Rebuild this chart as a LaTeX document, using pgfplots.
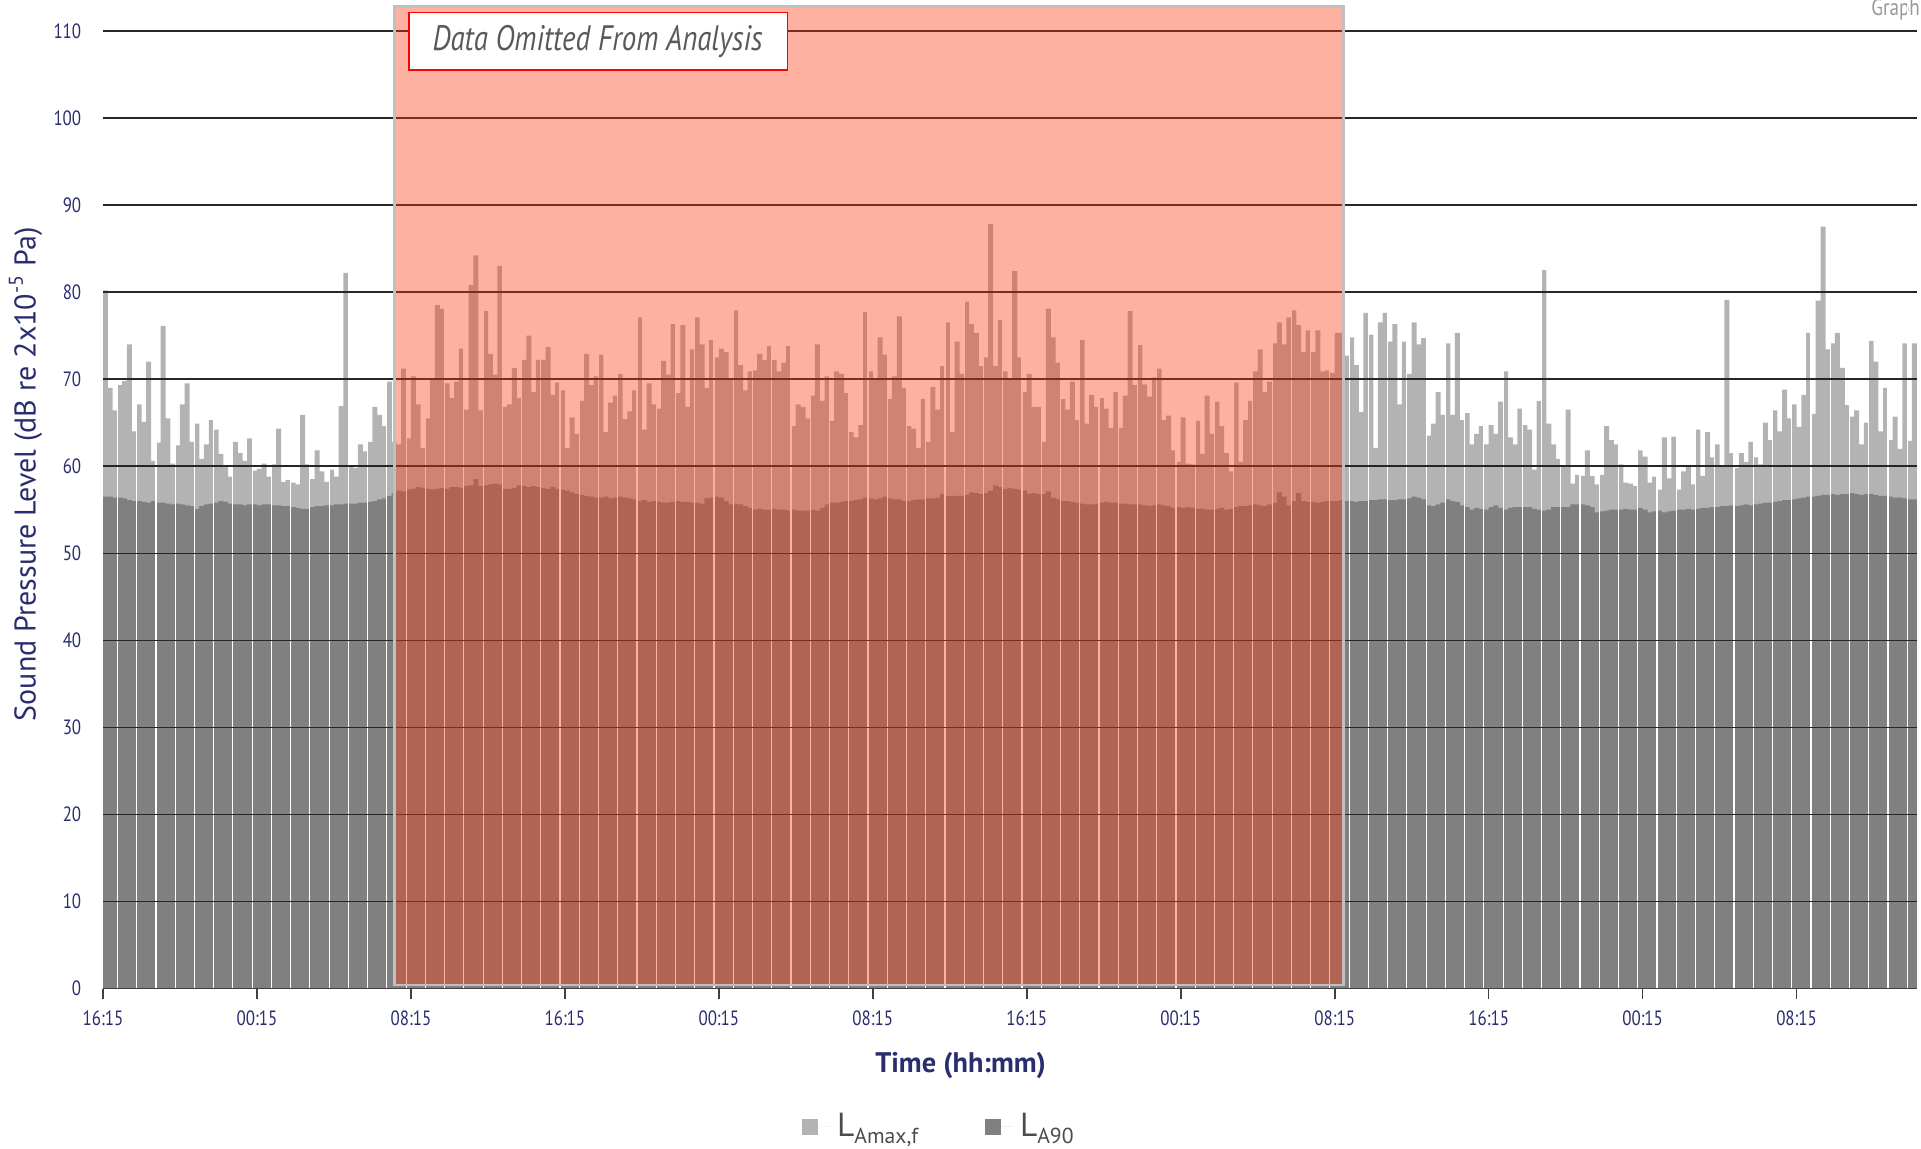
\documentclass[border=0pt]{standalone}
\usepackage{fontspec}
\setmainfont{PT Sans}
\newfontfamily\tickfont{PT Sans}[FakeStretch=0.82]
\usepackage{pgfplots}
\usepackage{pgfplotstable}
\pgfplotsset{compat=1.18}
\usetikzlibrary{calc}
\definecolor{navy}{RGB}{42,45,110}
\definecolor{lmax}{RGB}{179,179,179}
\definecolor{lninety}{RGB}{128,128,128}
\definecolor{omit}{RGB}{255,60,20}

\pgfplotstableread{
i max l90
0 80.2 56.5
1 69.0 56.5
2 66.4 56.4
3 69.3 56.4
4 69.8 56.3
5 74.0 56.1
6 64.0 56.0
7 67.1 56.0
8 65.1 55.9
9 72.0 55.8
10 60.6 56.0
11 62.7 55.8
12 76.1 55.8
13 65.5 55.7
14 60.3 55.6
15 62.4 55.7
16 67.1 55.6
17 69.5 55.5
18 62.8 55.4
19 64.9 55.1
20 60.8 55.4
21 62.5 55.6
22 65.3 55.7
23 64.2 55.8
24 61.4 56.0
25 60.0 55.9
26 58.8 55.7
27 62.8 55.6
28 61.5 55.6
29 60.6 55.5
30 63.2 55.6
31 59.5 55.6
32 59.7 55.5
33 60.3 55.6
34 58.8 55.6
35 60.2 55.5
36 64.3 55.5
37 58.2 55.4
38 58.4 55.4
39 58.1 55.3
40 57.9 55.2
41 65.9 55.1
42 60.2 55.1
43 58.5 55.3
44 61.8 55.4
45 59.4 55.4
46 58.2 55.5
47 59.6 55.5
48 58.8 55.6
49 66.9 55.6
50 82.2 55.7
51 60.0 55.7
52 59.8 55.7
53 62.5 55.8
54 61.7 55.8
55 62.8 55.9
56 66.8 56.0
57 65.9 56.2
58 64.6 56.3
59 69.7 56.6
60 62.8 56.9
61 62.5 57.2
62 71.2 57.1
63 63.2 57.3
64 70.3 57.4
65 67.1 57.6
66 62.1 57.5
67 65.5 57.4
68 70.0 57.3
69 78.5 57.4
70 78.1 57.5
71 69.5 57.4
72 67.8 57.6
73 69.7 57.6
74 73.5 57.5
75 66.5 57.7
76 80.8 57.8
77 84.2 58.5
78 66.4 57.7
79 77.8 57.8
80 72.9 57.9
81 70.5 58.0
82 83.0 57.9
83 66.8 57.4
84 67.1 57.4
85 71.3 57.5
86 67.8 57.8
87 72.2 57.7
88 75.0 57.6
89 68.5 57.7
90 72.2 57.6
91 72.2 57.5
92 73.7 57.4
93 68.2 57.6
94 69.6 57.4
95 68.7 57.3
96 62.1 57.2
97 65.6 57.0
98 63.7 56.8
99 67.5 56.7
100 72.9 56.6
101 69.3 56.5
102 70.3 56.4
103 72.8 56.4
104 63.9 56.5
105 67.3 56.3
106 68.1 56.4
107 70.6 56.5
108 65.4 56.4
109 66.3 56.3
110 68.7 56.2
111 77.1 56.0
112 64.2 56.1
113 69.5 55.9
114 67.1 56.0
115 66.6 55.9
116 72.1 55.8
117 70.5 55.8
118 76.3 55.9
119 68.4 56.0
120 76.2 55.9
121 66.8 55.9
122 73.4 55.8
123 77.1 55.8
124 74.0 55.7
125 69.0 56.3
126 74.5 56.4
127 72.5 56.5
128 73.5 56.4
129 73.1 56.0
130 70.0 55.6
131 77.9 55.7
132 71.6 55.6
133 68.7 55.4
134 70.9 55.2
135 71.0 55.0
136 72.9 55.1
137 72.2 55.0
138 73.8 55.0
139 72.2 55.1
140 70.9 55.0
141 71.9 55.0
142 73.8 54.9
143 64.6 55.0
144 67.1 54.9
145 66.8 54.9
146 65.5 54.9
147 68.1 55.0
148 74.0 54.9
149 67.5 55.2
150 70.3 55.6
151 65.2 55.8
152 70.9 55.8
153 70.6 55.9
154 68.4 56.0
155 63.9 56.0
156 63.3 56.1
157 64.7 56.2
158 77.7 56.4
159 70.9 56.3
160 70.0 56.2
161 74.8 56.3
162 72.8 56.5
163 67.7 56.3
164 70.3 56.2
165 77.2 56.2
166 69.0 56.0
167 64.6 56.0
168 64.3 56.1
169 62.1 56.2
170 67.7 56.2
171 62.8 56.3
172 69.1 56.3
173 66.5 56.4
174 71.5 56.8
175 76.5 56.6
176 63.9 56.6
177 74.3 56.6
178 70.6 56.6
179 78.9 56.7
180 76.3 57.0
181 75.3 56.9
182 71.5 56.8
183 72.5 56.9
184 87.8 57.2
185 71.5 57.8
186 76.8 57.6
187 70.9 57.4
188 70.0 57.5
189 82.4 57.4
190 72.5 57.3
191 68.5 57.2
192 70.6 56.8
193 66.8 56.9
194 66.8 56.8
195 62.8 56.8
196 78.1 57.1
197 74.8 56.4
198 71.9 56.2
199 67.7 56.0
200 66.5 56.0
201 69.7 55.9
202 65.3 55.8
203 74.5 55.7
204 64.9 55.6
205 68.2 55.6
206 66.8 55.7
207 67.8 55.8
208 66.6 55.9
209 64.4 55.8
210 68.5 55.8
211 64.4 55.7
212 68.1 55.7
213 77.8 55.6
214 69.3 55.6
215 73.9 55.6
216 69.4 55.5
217 68.0 55.4
218 70.2 55.5
219 71.2 55.6
220 65.3 55.5
221 65.8 55.4
222 61.8 55.2
223 60.5 55.3
224 65.6 55.2
225 60.3 55.3
226 60.2 55.2
227 65.2 55.1
228 61.4 55.1
229 68.1 55.0
230 63.7 55.0
231 67.4 55.1
232 64.6 55.2
233 61.5 55.0
234 59.4 55.1
235 69.6 55.3
236 60.5 55.4
237 65.3 55.4
238 67.5 55.5
239 70.9 55.6
240 73.4 55.5
241 68.5 55.4
242 69.7 55.6
243 74.1 55.8
244 76.5 57.0
245 74.0 56.5
246 77.1 55.5
247 77.9 56.0
248 76.2 56.9
249 73.1 56.0
250 75.6 55.9
251 73.1 55.9
252 75.6 55.8
253 70.9 55.9
254 71.0 56.0
255 70.7 56.0
256 75.3 56.0
257 75.3 56.1
258 72.7 56.0
259 74.8 56.0
260 71.6 55.9
261 66.2 56.0
262 77.6 56.0
263 75.1 56.1
264 62.1 56.1
265 76.5 56.2
266 77.6 56.2
267 74.3 56.1
268 76.3 56.1
269 67.1 56.2
270 74.3 56.2
271 70.6 56.3
272 76.5 56.5
273 74.0 56.4
274 74.7 56.2
275 63.5 55.5
276 64.9 55.4
277 68.5 55.6
278 65.9 55.8
279 74.1 56.2
280 65.9 56.0
281 75.3 55.9
282 65.3 55.5
283 66.1 55.3
284 62.5 55.0
285 63.7 55.2
286 64.6 55.1
287 62.5 55.0
288 64.7 55.3
289 63.7 55.5
290 67.4 55.2
291 70.9 55.0
292 63.3 55.2
293 62.5 55.3
294 66.6 55.3
295 64.7 55.3
296 64.2 55.3
297 59.6 55.1
298 67.5 55.0
299 82.5 54.9
300 64.9 55.0
301 62.5 55.3
302 60.8 55.3
303 60.0 55.3
304 66.5 55.3
305 58.0 55.6
306 59.0 55.6
307 58.9 55.6
308 61.8 55.5
309 58.9 55.3
310 57.9 54.7
311 59.0 54.8
312 64.6 54.9
313 63.0 55.0
314 62.5 55.0
315 60.2 55.0
316 58.1 55.1
317 58.0 55.0
318 57.7 55.0
319 61.8 55.2
320 61.1 55.0
321 58.1 54.7
322 58.8 54.8
323 57.3 54.9
324 63.3 54.7
325 58.6 54.8
326 63.4 54.9
327 57.3 55.0
328 59.4 55.0
329 60.0 55.1
330 57.9 55.0
331 64.2 55.1
332 58.9 55.2
333 63.9 55.2
334 61.0 55.3
335 62.5 55.3
336 60.0 55.4
337 79.1 55.4
338 61.5 55.5
339 59.8 55.4
340 61.5 55.5
341 60.5 55.6
342 62.8 55.5
343 61.0 55.6
344 60.2 55.7
345 65.0 55.8
346 63.0 55.8
347 66.4 55.9
348 64.0 56.0
349 68.8 56.1
350 65.5 56.1
351 67.1 56.2
352 64.5 56.3
353 68.2 56.4
354 75.3 56.5
355 66.0 56.5
356 79.0 56.6
357 87.5 56.7
358 73.4 56.7
359 74.1 56.8
360 75.3 56.7
361 71.3 56.8
362 67.0 56.8
363 65.7 56.9
364 66.4 56.8
365 62.5 56.7
366 65.0 56.8
367 74.4 56.8
368 72.0 56.7
369 64.0 56.6
370 69.0 56.6
371 63.0 56.5
372 65.7 56.4
373 62.0 56.4
374 74.1 56.3
375 62.9 56.2
376 74.1 56.2
}\data

\pgfplotsset{sqlegend/.style={legend image code/.code={\fill[##1] (0pt,-2.4pt) rectangle (4.8pt,2.4pt); \path (0pt,0pt) -- (8.5pt,0pt);}}}

\begin{document}
\begin{tikzpicture}
\begin{axis}[name=ax, set layers, axis on top,
  scale only axis, width=544.3pt, height=295.2pt,
  xmin=-0.5, xmax=376.6, ymin=0, ymax=113,
  axis x line*=bottom, axis y line*=left,
  y axis line style={draw=none},
  x axis line style={-, draw=black!75, line width=0.5pt},
  xtick={-0.5,31.5,...,351.5},
  xticklabels={16:15,00:15,08:15,16:15,00:15,08:15,16:15,00:15,08:15,16:15,00:15,08:15},
  xtick style={draw=black!75, line width=0.5pt},
  tick align=outside, major tick length=3pt,
  minor xtick={2.5,6.5,...,374.5},
  minor tick length=0pt,
  xminorgrids, minor x grid style={white, line width=0.35pt},
  ytick={0,10,...,110},
  ytick style={draw=none},
  ymajorgrids, major y grid style={black!85, line width=0.45pt},
  ticklabel style={font=\tickfont\fontsize{6.2}{7}\selectfont, text=navy},
  /pgf/number format/assume math mode=true,
  yticklabel style={xshift=0pt},
  every axis x label/.style={at={(axis description cs:0.4727,0)}, anchor=center, yshift=-23.2pt, font=\fontsize{8.5}{10}\selectfont\bfseries, text=navy},
  every axis y label/.style={at={(axis description cs:0,0.523)}, xshift=-23.2pt, rotate=90, anchor=center, font=\fontsize{9}{10}\selectfont, text=navy},
  xlabel={Time (hh:mm)},
  ylabel={Sound Pressure Level (dB re 2x10\textsuperscript{-5} Pa)},
  legend style={at={(axis description cs:0.462,0)}, yshift=-41.5pt, anchor=center, draw=none, fill=none, legend columns=2, font=\fontsize{10}{12}\selectfont, text=black!70, /tikz/every even column/.append style={column sep=18pt}},
]
\addplot[ybar, bar width=1.04, bar shift=0pt, fill=lmax, draw=none, sqlegend] table[x=i, y=max] {\data};
\addlegendentry{L\raisebox{-2.2pt}{\fontsize{6.5}{7}\selectfont Amax,f}}
\addplot[ybar, bar width=1.04, bar shift=0pt, fill=lninety, draw=none, sqlegend] table[x=i, y=l90] {\data};
\addlegendentry{L\raisebox{-2.2pt}{\fontsize{6.5}{7}\selectfont A90}}
\addplot[on layer=axis foreground, fill=omit, fill opacity=0.4, draw=black!25, line width=0.75pt, forget plot] coordinates {(60.1,0.4) (60.1,112.8) (257.3,112.8) (257.3,0.4)} -- cycle;
\begin{pgfonlayer}{axis foreground}
\draw[red, line width=0.45pt, fill=white] (axis cs:63.15,105.5) rectangle (axis cs:141.8,112.1);
\node[font=\tickfont\fontsize{10.6}{12}\selectfont\itshape, text=black!65] at (axis cs:102.3,108.8) {Data Omitted From Analysis};
\end{pgfonlayer}
\end{axis}
\node[anchor=west, font=\tickfont\fontsize{7}{8}\selectfont, text=black!40, inner sep=0pt] at ($(ax.north east)+(-14pt,-1.6pt)$) {Graph 1};
\pgfresetboundingbox
\path ($(ax.south west)+(-30.9pt,-48.1pt)$) rectangle ($(ax.north east)+(1.1pt,1.4pt)$);
\end{tikzpicture}
\end{document}
